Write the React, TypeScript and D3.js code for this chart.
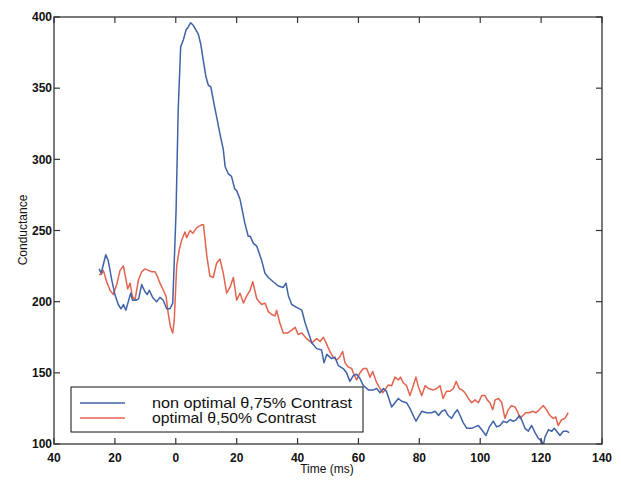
import React from "react";
import * as d3 from "d3";

const blueTime = [-25.2,-24.5,-23.0,-22.2,-21.0,-20.0,-18.9,-18.0,-17.2,-16.4,-15.6,-14.8,-14.2,-13.1,-12.2,-11.2,-10.1,-9.4,-8.7,-7.6,-6.3,-5.2,-4.1,-3.0,-1.9,-1.0,-0.3,0.1,0.8,1.6,2.5,3.4,4.1,4.9,5.8,6.6,7.4,8.2,9.0,9.9,10.7,11.5,12.3,13.4,14.5,15.6,16.2,17.2,18.3,19.4,20.0,21.1,22.7,23.8,24.4,25.5,26.6,27.1,28.2,29.3,30.4,32.0,33.7,35.3,36.2,37.0,38.1,39.7,41.4,42.5,43.6,44.7,46.3,47.9,48.7,49.6,51.2,52.3,53.4,55.0,56.1,57.2,58.3,59.4,60.5,61.6,63.3,64.9,66.0,67.1,68.2,69.2,70.9,72.0,73.1,74.2,75.8,76.9,78.0,78.9,79.7,80.8,82.4,84.1,85.2,86.3,87.4,88.4,89.5,90.6,91.7,92.5,93.4,94.4,95.6,97.2,98.3,99.4,100.5,101.9,103.0,104.3,105.4,106.5,107.6,108.7,109.8,110.9,111.8,112.9,113.6,114.7,115.8,116.9,118.0,119.1,120.2,120.7,121.3,122.4,123.5,124.3,125.1,126.2,127.3,128.4,129.2];
const blueValues = [223,220,233,229,215,205,198,195,198,194,200,206,201,201,202,212,207,205,208,203,200,203,201,195,195,199,240,264,335,379,384,391,393,396,394,391,388,381,370,358,352,351,342,330,318,307,295,290,288,279,278,272,255,246,246,241,239,236,229,220,217,214,211,210,213,204,198,196,194,185,178,171,167,166,157,163,160,161,155,153,150,144,148,149,146,141,138,138,139,136,139,137,126,129,132,130,129,125,120,116,119,123,122,122,123,120,123,124,120,118,122,124,120,115,111,111,112,113,110,106,112,116,112,113,116,115,117,116,117,120,117,111,109,113,108,104,102,99,105,110,109,111,109,106,109,109,108];

const redTime = [-25.2,-24.5,-23.8,-22.7,-21.6,-20.5,-19.4,-18.3,-17.2,-16.4,-15.8,-15.0,-14.3,-13.4,-12.3,-11.2,-10.1,-9.0,-7.9,-6.8,-6.1,-5.2,-4.1,-3.2,-2.5,-1.7,-1.0,-0.5,0.3,1.1,1.9,3.0,3.6,4.7,5.6,6.9,8.5,9.1,10.2,11.2,12.3,13.4,14.5,15.6,16.7,17.8,18.9,20.0,21.1,22.2,23.3,24.4,25.3,26.6,28.2,29.3,30.4,31.5,32.6,33.1,34.2,35.3,36.8,38.1,39.2,40.2,41.4,43.0,44.7,45.7,46.3,47.4,48.5,49.6,50.6,51.7,52.8,53.8,54.8,55.6,56.7,57.8,58.3,59.4,60.5,61.6,62.7,63.8,64.7,65.8,67.1,68.0,68.7,69.8,70.9,72.0,73.1,73.8,74.7,75.8,76.9,78.0,78.9,79.7,80.8,81.9,83.0,84.6,85.7,86.8,87.8,88.9,90.0,91.2,92.1,93.1,94.0,95.0,96.1,97.2,98.3,99.4,100.5,101.6,102.3,103.2,104.1,104.9,106.0,107.1,108.1,109.2,110.3,111.4,112.2,113.1,114.0,115.0,116.1,117.2,118.3,119.4,120.7,121.8,122.9,124.0,124.8,125.6,126.7,127.8,128.9];
const redValues = [219,219,222,214,208,205,212,222,225,216,209,213,204,201,215,221,223,222,221,221,218,213,208,204,192,182,178,187,225,236,243,249,245,250,248,252,254,254,232,218,217,227,230,220,206,210,217,201,206,199,204,208,214,202,198,199,193,191,190,194,185,178,178,180,182,177,178,174,171,173,174,172,175,170,165,161,159,161,165,157,154,153,150,145,150,153,153,147,151,144,139,136,138,141.5,141,147,145,147,143,141,134,141,147,140,134,141,139,138,139,141,132,137,137,139,144,139,138,136,132,129,131,129,134,134,131,129,124,131,132,129,118,124,127,126,123,118,120,122,122,123,122,124,127,124,120,118,119,113,117,118,122];

const xTicks = [-40, -20, 0, 20, 40, 60, 80, 100, 120, 140];
const xTickLabels = ["40", "20", "0", "20", "40", "60", "80", "100", "120", "140"];
const yTicks = [100, 150, 200, 250, 300, 350, 400];

const seriesNames = ["non optimal \u03b8,75% Contrast", "optimal \u03b8,50% Contrast"];
const seriesColors = ["#3f62a8", "#e2634e"];

export default function App() {
  const W = 621, H = 480;
  const L = 54, R = 602, T = 17, B = 444;
  const x = d3.scaleLinear().domain([-40, 140]).range([L, R]);
  const y = d3.scaleLinear().domain([100, 400]).range([B, T]);
  const line = d3.line<[number, number]>().x(d => x(d[0])).y(d => y(d[1]));
  const blue = blueTime.map((t, i) => [t, blueValues[i]] as [number, number]);
  const red = redTime.map((t, i) => [t, redValues[i]] as [number, number]);
  const font = "'Liberation Sans', Arial, Helvetica, sans-serif";
  const tk = 6;
  const axisColor = "#333";

  return (
    <svg width={W} height={H} style={{ position: "absolute", left: 0, top: 0, background: "#fff" }} fontFamily={font}>
      <rect x={0} y={0} width={W} height={H} fill="#fff" />
      <defs>
        <clipPath id="plotclip">
          <rect x={L} y={T} width={R - L} height={B - T} />
        </clipPath>
      </defs>
      <g clipPath="url(#plotclip)" fill="none" strokeWidth={1.5} strokeLinejoin="round">
        <path d={line(red) || ""} stroke={seriesColors[1]} />
        <path d={line(blue) || ""} stroke={seriesColors[0]} />
      </g>
      <rect x={L} y={T} width={R - L} height={B - T} fill="none" stroke={axisColor} strokeWidth={1.3} />
      {xTicks.map((t, i) => (
        <g key={"x" + i}>
          <line x1={x(t)} x2={x(t)} y1={B} y2={B - tk} stroke={axisColor} strokeWidth={1.2} />
          <line x1={x(t)} x2={x(t)} y1={T} y2={T + tk} stroke={axisColor} strokeWidth={1.2} />
          <text x={x(t)} y={462} textAnchor="middle" fontSize={12} fontWeight="bold" fill="#111">{xTickLabels[i]}</text>
        </g>
      ))}
      {yTicks.map((v, i) => (
        <g key={"y" + i}>
          <line x1={L} x2={L + tk} y1={y(v)} y2={y(v)} stroke={axisColor} strokeWidth={1.2} />
          <line x1={R} x2={R - tk} y1={y(v)} y2={y(v)} stroke={axisColor} strokeWidth={1.2} />
          <text x={52} y={y(v)} dy="0.35em" textAnchor="end" fontSize={12} fontWeight="bold" fill="#111">{v}</text>
        </g>
      ))}
      <text x={327} y={473} textAnchor="middle" fontSize={12} fill="#111">Time (ms)</text>
      <text transform="translate(27,230) rotate(-90)" textAnchor="middle" fontSize={12} fill="#111">Conductance</text>
      <g>
        <rect x={71} y={387} width={292} height={45} fill="#fff" stroke="#111" strokeWidth={1} />
        <line x1={80} x2={125} y1={403} y2={403} stroke={seriesColors[0]} strokeWidth={1.5} />
        <line x1={80} x2={125} y1={418} y2={418} stroke={seriesColors[1]} strokeWidth={1.5} />
        <text x={152} y={408} fontSize={14.5} fill="#111" textLength={200} lengthAdjust="spacingAndGlyphs">{seriesNames[0]}</text>
        <text x={152} y={423} fontSize={14.5} fill="#111" textLength={164} lengthAdjust="spacingAndGlyphs">{seriesNames[1]}</text>
      </g>
    </svg>
  );
}
